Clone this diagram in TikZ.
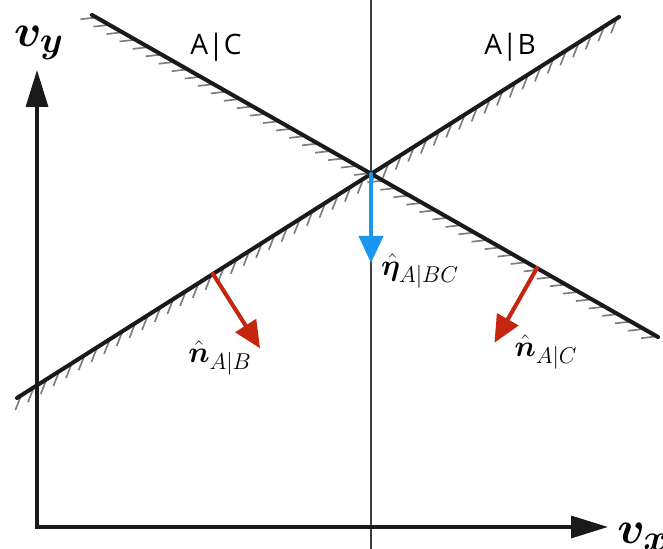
\documentclass[tikz,border=0pt]{standalone}
\usepackage{fix-cm}
\usepackage{amsmath}
\usepackage{bm}
\usepackage{fontspec}
\setsansfont{Open Sans}
\DeclareMathSizes{17}{17}{13}{10}
\DeclareMathSizes{26}{26}{21}{16}
\usetikzlibrary{arrows.meta,decorations.markings,calc}
\definecolor{nblue}{RGB}{26,150,240}
\definecolor{nred}{RGB}{196,38,16}
\definecolor{hatchgray}{RGB}{125,125,125}
\definecolor{linedark}{RGB}{26,26,26}
\begin{document}
\begin{tikzpicture}[line join=round, line cap=round, >={Triangle[length=0.54cm,width=0.48cm]}]
	\tikzset{
		bound/.style={linedark, line width=2.3pt,
			preaction={decorate, decoration={markings,
					mark=between positions 0.1cm and 1 step 0.3cm with {\draw[hatchgray, line width=0.95pt, line cap=butt] (0,0) -- (-144:0.32);}}}},
		axis/.style={linedark, line width=1.9pt, line join=miter, {Triangle[length=0.74cm,width=0.44cm]}-{Triangle[length=0.74cm,width=0.44cm]}},
		vline/.style={black!75, line width=0.85pt},
		normal/.style={nred, line width=2.3pt, ->},
		vlabel/.style={font=\fontsize{26}{26}\selectfont},
		mlabel/.style={font=\fontsize{17}{17}\selectfont},
		region/.style={font=\sffamily\fontsize{16}{16}\selectfont}
	}
	%Khung hình
	\def \xmax{13.26}
	\def \ymax{10.98}
	\useasboundingbox (0,0) rectangle (\xmax,\ymax);
	
	%Các điểm
	\coordinate (O) at (0.74,0.44);
	\coordinate (Ytip) at (0.74,9.58);
	\coordinate (Xtip) at (12.16,0.44);
	\coordinate (P) at (7.42,7.50);
	\coordinate (B1) at (0.34,3.02);
	\coordinate (B2) at (12.38,10.64);
	\coordinate (C1) at (1.84,10.68);
	\coordinate (C2) at (13.16,4.24);
	\coordinate (QB) at (4.26,5.50);
	\coordinate (QC) at (10.74,5.62);
	
	%Đường thẳng đứng qua P
	\draw[vline] (P|-0,0) -- (P|-0,\ymax);
	
	%Hai biên có gạch
	\draw[bound] (B1) -- (B2);
	\draw[bound] (C1) -- (C2);
	
	%Trục
	\draw[axis] (Ytip) -- (O) -- (Xtip);
	\node[vlabel] (vy) at (0.78,10.12) {$\bm{v}_{\bm{y}}$};
	\node[vlabel] (vx) at (12.86,0.24) {$\bm{v}_{\bm{x}}$};
	
	%Vectơ pháp tuyến
	\draw[normal] (QB) -- ++(-57.67:1.76) coordinate (NB);
	\draw[normal] (QC) -- ++(-119.64:1.72) coordinate (NC);
	\draw[normal, nblue] (P) -- (7.42,5.72) coordinate (E);
	
	\node[mlabel] (nab) at (4.40,3.82) {$\bm{\hat{n}}_{A|B}$};
	\node[mlabel] (nac) at (10.92,3.94) {$\bm{\hat{n}}_{A|C}$};
	\node[mlabel] (eta) at (8.40,5.56) {$\bm{\hat{\eta}}_{A|BC}$};
	
	\node[region] (ac) at (4.32,10.04) {A|C};
	\node[region] (ab) at (10.2,10.04) {A|B};
\end{tikzpicture}
\end{document}
